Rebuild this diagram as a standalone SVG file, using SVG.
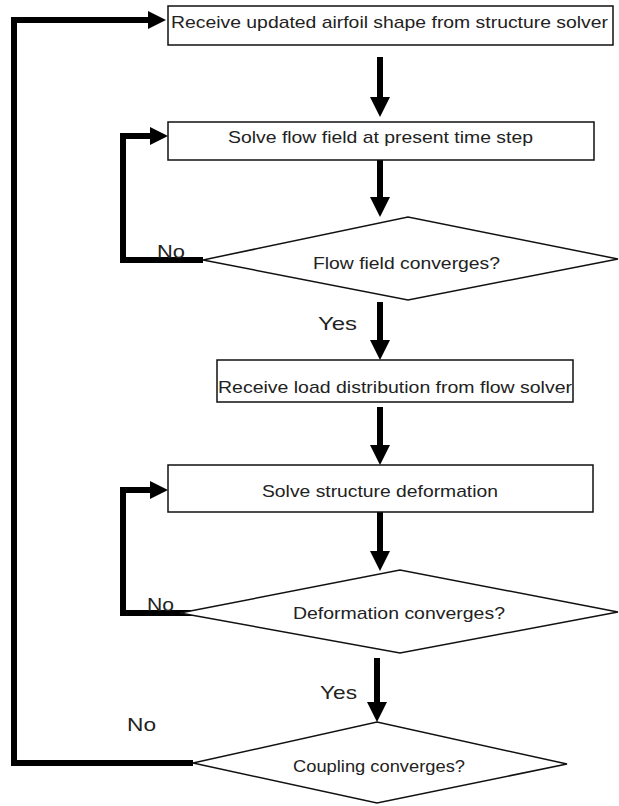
<svg xmlns="http://www.w3.org/2000/svg" width="619" height="806" viewBox="0 0 619 806">
<style>
.box{fill:#fff;stroke:#111;stroke-width:1.5}
.dia{fill:#fff;stroke:#111;stroke-width:1.5}
.t{font-family:"Liberation Sans",Arial,sans-serif;font-size:17px;fill:#222}
.l{font-family:"Liberation Sans",Arial,sans-serif;font-size:19px;fill:#222}
.c{fill:none;stroke:#000;stroke-linejoin:miter}
.down{stroke-width:6;marker-end:url(#ah)}
.loop{stroke-width:6;marker-end:url(#ah2)}
</style>
<defs>
<marker id="ah" markerUnits="userSpaceOnUse" markerWidth="20" markerHeight="20" refX="0" refY="10" orient="auto" overflow="visible">
<path d="M0,0 L20,10 L0,20 z" fill="#000"/>
</marker>
<marker id="ah2" markerUnits="userSpaceOnUse" markerWidth="18" markerHeight="18" refX="0" refY="9" orient="auto" overflow="visible">
<path d="M0,0 L18,9 L0,18 z" fill="#000"/>
</marker>
</defs>
<rect width="619" height="806" fill="#fff"/>
<g id="connectors">
<path class="c down" d="M380,57 V97"/>
<path class="c down" d="M380,160 V197"/>
<path class="c down" d="M380,302 V340"/>
<path class="c down" d="M380,407 V445"/>
<path class="c down" d="M380,512 V551"/>
<path class="c down" d="M377,658 V702"/>
<path class="c loop" d="M203,260 H123 V136 H150"/>
<path class="c loop" d="M203,613 H123 V490 H150"/>
<path class="c loop" d="M193,763 H14 V20 H148"/>
<text class="l" x="157" y="258" textLength="28" lengthAdjust="spacingAndGlyphs">No</text>
<text class="l" x="318" y="330" textLength="39" lengthAdjust="spacingAndGlyphs">Yes</text>
<text class="l" x="147" y="611" textLength="27" lengthAdjust="spacingAndGlyphs">No</text>
<text class="l" x="320" y="699" textLength="37" lengthAdjust="spacingAndGlyphs">Yes</text>
<text class="l" x="127" y="731" textLength="29" lengthAdjust="spacingAndGlyphs">No</text>
</g>
<g id="n1">
<rect class="box" x="168" y="6" width="445" height="39"/>
<text class="t" x="171" y="28" textLength="437" lengthAdjust="spacingAndGlyphs">Receive updated airfoil shape from structure solver</text>
</g>
<g id="n2">
<rect class="box" x="168" y="122" width="426" height="38"/>
<text class="t" x="228" y="143" textLength="305" lengthAdjust="spacingAndGlyphs">Solve flow field at present time step</text>
</g>
<g id="n3">
<polygon class="dia" points="203,260 408,217 618,259 408,300"/>
<text class="t" x="313" y="269" textLength="187" lengthAdjust="spacingAndGlyphs">Flow field converges?</text>
</g>
<g id="n4">
<rect class="box" x="217" y="360" width="356" height="42"/>
<text class="t" x="218" y="393" textLength="354" lengthAdjust="spacingAndGlyphs">Receive load distribution from flow solver</text>
</g>
<g id="n5">
<rect class="box" x="168" y="465" width="425" height="47"/>
<text class="t" x="262" y="497" textLength="236" lengthAdjust="spacingAndGlyphs">Solve structure deformation</text>
</g>
<g id="n6">
<polygon class="dia" points="180,613 400,570 618,612 400,653"/>
<text class="t" x="293" y="619" textLength="212" lengthAdjust="spacingAndGlyphs">Deformation converges?</text>
</g>
<g id="n7">
<polygon class="dia" points="193,763 377,722 567,764 377,803"/>
<text class="t" x="293" y="772" textLength="172" lengthAdjust="spacingAndGlyphs">Coupling converges?</text>
</g>
</svg>
